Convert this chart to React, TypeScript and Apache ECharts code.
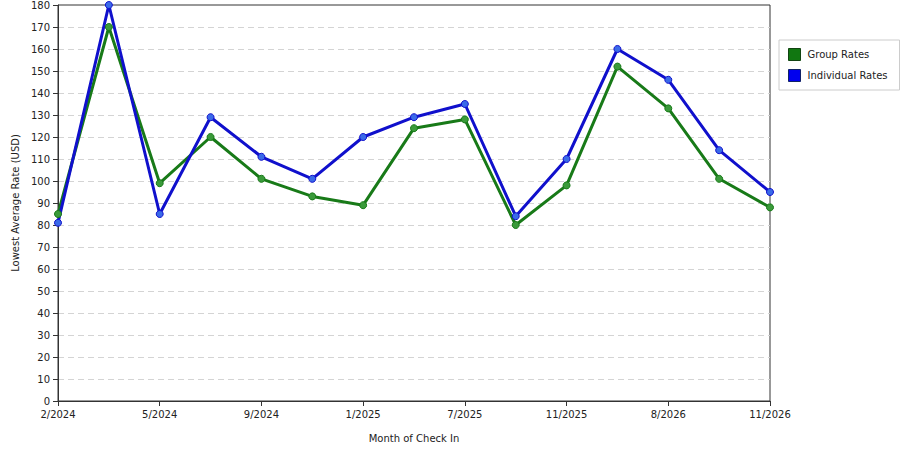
import { useEffect, useRef } from "react";
import * as echarts from "echarts";

const months = [
  "2/2024", "3/2024", "5/2024", "7/2024", "9/2024", "11/2024", "1/2025", "4/2025",
  "7/2025", "9/2025", "11/2025", "3/2026", "8/2026", "10/2026", "11/2026",
];
const groupRates = [85, 170, 99, 120, 101, 93, 89, 124, 128, 80, 98, 152, 133, 101, 88];
const individualRates = [81, 180, 85, 129, 111, 101, 120, 129, 135, 84, 110, 160, 146, 114, 95];

const FONT = "DejaVu Sans";

export default function App() {
  const ref = useRef<HTMLDivElement>(null);

  useEffect(() => {
    if (!ref.current) return;
    const chart = echarts.init(ref.current, null, { renderer: "svg" });
    chart.setOption({
      animation: false,
      textStyle: { fontFamily: FONT },
      grid: {
        left: 58,
        top: 5,
        right: 130,
        bottom: 49,
        show: true,
        borderColor: "#333",
        borderWidth: 1,
      },
      legend: {
        orient: "vertical",
        left: 779,
        top: 40,
        width: 110,
        padding: [8, 12, 8, 9],
        itemGap: 8,
        itemWidth: 12,
        itemHeight: 12,
        icon: "rect",
        borderColor: "#ccc",
        borderWidth: 1,
        textStyle: { fontSize: 10, color: "#222", fontFamily: FONT, padding: [0, 0, 0, 2] },
        data: [
          { name: "Group Rates", itemStyle: { color: "#117711", borderColor: "#114411", borderWidth: 1 } },
          { name: "Individual Rates", itemStyle: { color: "#0000ee", borderColor: "#112266", borderWidth: 1 } },
        ],
      },
      xAxis: {
        type: "category",
        data: months,
        boundaryGap: false,
        name: "Month of Check In",
        nameLocation: "middle",
        nameGap: 32,
        nameTextStyle: { fontSize: 10, color: "#222" },
        axisLine: { lineStyle: { color: "#333" } },
        axisTick: { interval: 1, length: 5, lineStyle: { color: "#333" } },
        axisLabel: { interval: 1, fontSize: 10, color: "#222", margin: 8 },
        splitLine: { show: false },
      },
      yAxis: {
        type: "value",
        min: 0,
        max: 180,
        interval: 10,
        name: "Lowest Average Rate (USD)",
        nameLocation: "middle",
        nameGap: 38,
        nameTextStyle: { fontSize: 10, color: "#222" },
        axisLine: { show: true, lineStyle: { color: "#333" } },
        axisTick: { show: true, length: 5, lineStyle: { color: "#333" } },
        axisLabel: { fontSize: 10, color: "#222", margin: 8 },
        splitLine: {
          showMinLine: false,
          showMaxLine: false,
          lineStyle: { color: "#d4d4d4", type: [6, 4] },
        },
      },
      series: [
        {
          name: "Group Rates",
          type: "line",
          data: groupRates,
          symbol: "circle",
          symbolSize: 7,
          lineStyle: { width: 3, color: "#187a18" },
          itemStyle: { color: "#3a9a3a", borderColor: "#187a18", borderWidth: 1 },
        },
        {
          name: "Individual Rates",
          type: "line",
          data: individualRates,
          symbol: "circle",
          symbolSize: 7,
          lineStyle: { width: 3, color: "#1010cc" },
          itemStyle: { color: "#3a6ae8", borderColor: "#1010cc", borderWidth: 1 },
        },
      ],
    });
    return () => chart.dispose();
  }, []);

  return (
    <div
      ref={ref}
      style={{ position: "absolute", left: 0, top: 0, width: 900, height: 450 }}
    />
  );
}
